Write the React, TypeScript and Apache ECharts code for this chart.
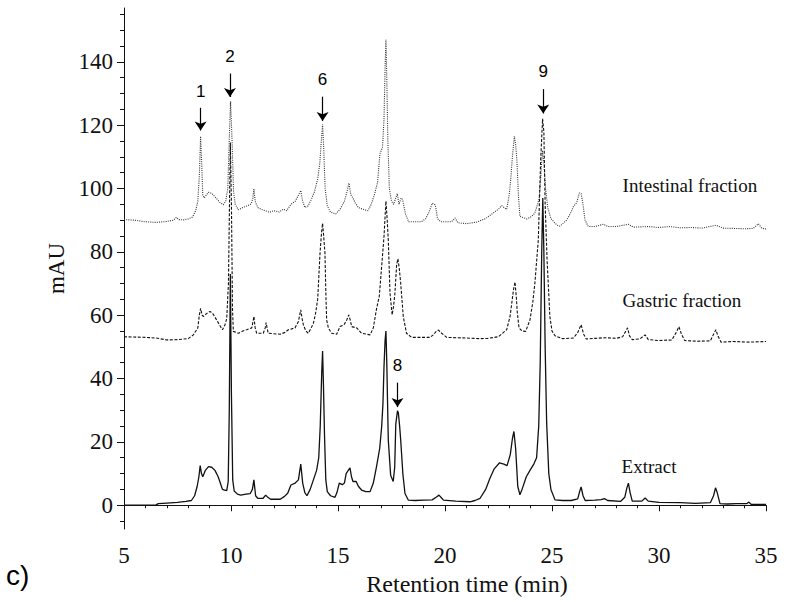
import React, { useEffect, useRef } from "react";
import * as echarts from "echarts";

// Retention time (min), absorbance (mAU)
const extractTrace: [number, number][] = [
  [5.0, 0], [6.0, 0], [6.5, 0.1], [6.6, 0.5], [7.0, 0.7], [7.5, 0.9], [7.9, 1.2], [8.15, 1.5], [8.3, 3], [8.42, 6],
  [8.5, 9], [8.56, 12.5], [8.62, 10], [8.68, 9], [8.8, 11], [8.95, 12.2], [9.1, 12], [9.25, 11], [9.4, 9], [9.5, 7],
  [9.6, 5], [9.7, 4.8], [9.8, 4.6], [9.87, 7.5], [9.92, 30], [9.97, 73], [10.02, 35], [10.08, 8], [10.15, 4.5],
  [10.3, 3.5], [10.45, 3.2], [10.7, 3.5], [10.9, 3.7], [11.0, 5], [11.07, 8], [11.15, 3], [11.25, 2.2], [11.5, 2.2],
  [11.62, 3.2], [11.72, 2.5], [11.85, 1.9], [12.3, 1.9], [12.5, 2.8], [12.65, 3.8], [12.8, 6.4], [13.0, 7], [13.15, 8],
  [13.26, 13], [13.35, 7], [13.45, 4], [13.55, 3], [13.7, 5], [13.85, 8], [14.0, 11], [14.1, 15], [14.17, 25],
  [14.24, 42], [14.28, 48.7], [14.32, 38], [14.37, 22], [14.43, 8], [14.5, 4.3], [14.65, 3], [14.86, 2.5], [14.95, 4],
  [15.06, 7], [15.2, 6.5], [15.3, 7], [15.38, 10], [15.48, 11], [15.56, 11.8], [15.63, 9], [15.7, 7.5], [15.85, 7.5],
  [15.95, 6], [16.1, 4.8], [16.3, 4.3], [16.5, 4.3], [16.65, 7], [16.8, 12.2], [16.95, 18], [17.04, 24.8], [17.1, 32],
  [17.15, 43.8], [17.2, 52], [17.24, 55], [17.28, 45], [17.35, 20.6], [17.46, 9.5], [17.58, 7.5], [17.65, 12],
  [17.7, 25.6], [17.78, 29.8], [17.82, 29.2], [17.88, 25], [17.93, 20.6], [18.03, 10], [18.13, 3.7], [18.29, 1.6],
  [18.6, 1.5], [18.99, 1.6], [19.4, 1.7], [19.6, 2.6], [19.72, 3.2], [19.85, 2.2], [19.93, 1.6], [20.5, 1.3],
  [21.17, 1.1], [21.4, 1.5], [21.64, 2.2], [21.9, 5], [22.1, 8.5], [22.3, 11.5], [22.55, 13.4], [22.75, 13],
  [22.9, 12.5], [23.05, 16], [23.15, 21], [23.22, 23.3], [23.3, 18], [23.4, 6], [23.5, 3.3], [23.6, 5], [23.8, 9],
  [23.97, 11], [24.15, 13], [24.28, 15], [24.38, 25], [24.45, 45], [24.52, 80], [24.57, 97], [24.62, 80], [24.68, 50],
  [24.75, 26], [24.85, 10], [24.95, 5], [25.14, 1.7], [25.5, 1.5], [25.9, 1.5], [26.2, 2], [26.3, 4.5], [26.36, 5.8],
  [26.45, 3], [26.55, 1.5], [27.0, 1.6], [27.3, 1.8], [27.45, 2.1], [27.6, 1.5], [28.2, 1.2], [28.4, 2.5], [28.5, 5.5],
  [28.57, 7], [28.65, 4], [28.75, 1.3], [29.2, 1.3], [29.35, 2.3], [29.5, 1.3], [30.0, 0.9], [31.0, 0.8], [31.7, 0.6],
  [32.4, 0.8], [32.55, 3], [32.64, 5.5], [32.72, 4], [32.85, 0.5], [33.2, 0.4], [33.6, 0.5], [34.1, 0.5], [34.2, 1],
  [34.3, 0.3], [35.0, 0.3],
];

const gastricTrace: [number, number][] = [
  [5.0, 53.2], [6.0, 53], [6.5, 52.8], [7.0, 52.2], [7.5, 52.3], [8.0, 52.6], [8.24, 53.8], [8.45, 56], [8.52, 60],
  [8.58, 62.2], [8.65, 60], [8.72, 59.6], [8.85, 60.5], [9.02, 61.2], [9.15, 60.5], [9.33, 58.5], [9.5, 56.5],
  [9.6, 55.4], [9.72, 57], [9.8, 58.9], [9.88, 70], [9.93, 95], [9.97, 114.5], [10.02, 95], [10.07, 62], [10.11, 54.9],
  [10.34, 54.3], [10.55, 55], [10.73, 55.4], [10.97, 56], [11.03, 58], [11.07, 59.6], [11.13, 56], [11.2, 54.3],
  [11.51, 54.3], [11.6, 56], [11.64, 57.7], [11.7, 55.5], [11.74, 54.3], [12.29, 54], [12.5, 54.5], [12.68, 55.4],
  [12.99, 56], [13.15, 58], [13.26, 61.7], [13.32, 59], [13.38, 57], [13.5, 55], [13.61, 54.3], [13.75, 56],
  [13.85, 57.5], [13.95, 60.5], [14.05, 65], [14.16, 79.6], [14.23, 86], [14.28, 89], [14.33, 85], [14.39, 79.6],
  [14.44, 65], [14.47, 58.5], [14.55, 56], [14.7, 54.3], [14.94, 54], [15.09, 56.4], [15.28, 57], [15.41, 58.5],
  [15.5, 60.1], [15.57, 58.5], [15.64, 56.4], [15.87, 56], [16.1, 54.3], [16.5, 53.8], [16.65, 56], [16.8, 62],
  [16.93, 66], [17.04, 75.4], [17.15, 84.9], [17.24, 96], [17.3, 90], [17.35, 83.8], [17.43, 67], [17.53, 60.1],
  [17.6, 63], [17.66, 67], [17.74, 76], [17.8, 77.8], [17.86, 75], [17.93, 70.1], [18.05, 59.6], [18.2, 54.3],
  [18.44, 53], [19.3, 53], [19.45, 53.8], [19.6, 55], [19.7, 55.3], [19.84, 54.3], [20.08, 53], [21.0, 52.8],
  [21.64, 52.6], [22.0, 52.7], [22.5, 53.2], [22.88, 55.4], [23.04, 59.6], [23.2, 68], [23.27, 70.5], [23.33, 66],
  [23.38, 60.7], [23.46, 56], [23.6, 55], [23.77, 54.9], [23.97, 58.5], [24.1, 64], [24.2, 70.1], [24.36, 83.8],
  [24.47, 109], [24.56, 122], [24.62, 118], [24.68, 95], [24.77, 77.5], [24.9, 59.6], [25.0, 55], [25.14, 53.5],
  [25.5, 52.6], [26.0, 52.8], [26.2, 54.5], [26.36, 57], [26.48, 54], [26.6, 52.5], [27.0, 52.7], [27.5, 52.9],
  [28.0, 52.7], [28.3, 53.2], [28.45, 55], [28.53, 56], [28.62, 53.5], [28.75, 52.3], [29.1, 52.5], [29.35, 53.8],
  [29.5, 52.3], [30.0, 52], [30.6, 52.2], [30.8, 54.5], [30.93, 56.4], [31.05, 54], [31.2, 52], [31.8, 51.8],
  [32.4, 51.9], [32.55, 54], [32.66, 55.4], [32.75, 53.5], [32.9, 51.5], [33.5, 51.7], [34.2, 51.5], [35.0, 51.7],
];

const intestinalTrace: [number, number][] = [
  [5.0, 90.2], [5.5, 90], [6.0, 89.5], [6.5, 89.3], [7.0, 89.6], [7.3, 90], [7.45, 90.9], [7.55, 90.2], [7.8, 90.1],
  [8.0, 90.4], [8.2, 91], [8.35, 93], [8.45, 96], [8.52, 104], [8.58, 116.5], [8.63, 108], [8.68, 98], [8.75, 97],
  [8.94, 98.8], [9.1, 98.5], [9.3, 97], [9.5, 95.5], [9.64, 94.9], [9.75, 96], [9.85, 100], [9.93, 118], [9.98, 127.5],
  [10.05, 115], [10.12, 99], [10.2, 95], [10.34, 93.3], [10.55, 94], [10.75, 94.5], [10.95, 95.2], [11.02, 97],
  [11.07, 99.8], [11.13, 96], [11.25, 94], [11.4, 93.5], [11.6, 93], [11.8, 92.5], [12.0, 93], [12.25, 92.6],
  [12.45, 93.5], [12.6, 93], [12.8, 95], [13.0, 96], [13.12, 97.5], [13.26, 99.4], [13.33, 96.5], [13.45, 94],
  [13.6, 94.5], [13.75, 96.5], [13.9, 99], [14.05, 103], [14.15, 108], [14.22, 115], [14.28, 120.2], [14.33, 113],
  [14.4, 100], [14.5, 94.5], [14.65, 92.5], [14.9, 92], [15.1, 93.5], [15.3, 96], [15.42, 99], [15.51, 101.7],
  [15.6, 98], [15.7, 97], [15.8, 95.5], [15.95, 94], [16.15, 93.5], [16.4, 93], [16.55, 95], [16.7, 98], [16.85, 102],
  [16.96, 111], [17.08, 113], [17.15, 122], [17.2, 138], [17.24, 147], [17.28, 135], [17.33, 115], [17.4, 100],
  [17.5, 96], [17.6, 95], [17.7, 97], [17.77, 98.4], [17.85, 95], [17.95, 97], [18.02, 96.5], [18.15, 92],
  [18.3, 89.5], [18.9, 89.5], [19.1, 90.5], [19.25, 92.5], [19.41, 95.4], [19.55, 94.8], [19.65, 90.5], [19.8, 89.5],
  [20.3, 89.5], [20.47, 90.7], [20.6, 89.2], [21.0, 88.9], [21.48, 89.4], [21.9, 90.5], [22.26, 92.3], [22.5, 93.5],
  [22.65, 94.6], [22.88, 93.4], [23.0, 98], [23.07, 102.8], [23.15, 110], [23.24, 116.5], [23.3, 114], [23.36, 108.9],
  [23.43, 98], [23.5, 91.2], [23.82, 90.4], [24.05, 91.2], [24.2, 92.3], [24.39, 96.5], [24.48, 104], [24.55, 112],
  [24.62, 108], [24.7, 100], [24.8, 94], [24.95, 90.5], [25.22, 88.5], [25.37, 88.1], [25.69, 90.1], [25.85, 92],
  [26.0, 94.3], [26.15, 95.5], [26.28, 98.6], [26.36, 98.4], [26.45, 95], [26.54, 90.1], [26.7, 88], [27.0, 88],
  [27.4, 88.7], [27.6, 88], [28.0, 88], [28.57, 88.7], [28.8, 87.8], [29.5, 88], [30.0, 87.7], [30.5, 88],
  [31.0, 87.6], [31.5, 87.7], [32.0, 87.5], [32.66, 88.4], [33.0, 87.5], [33.5, 87.4], [34.0, 87.3], [34.4, 87.4],
  [34.64, 88.9], [34.8, 87.5], [35.0, 87.2],
];

// Trace labels: [name, x (min), y (mAU)]
const traceNames = ["Extract", "Gastric fraction", "Intestinal fraction"];
const traceLabelX = [28.25, 28.3, 28.3];
const traceLabelY = [12.2, 64.8, 101];

// Peak annotations
const peakIds = ["1", "2", "6", "8", "9"];
const peakX = [8.58, 9.95, 14.28, 17.78, 24.59];
const arrowTop = [125.5, 136.3, 129, 38.7, 131.4];
const arrowTip = [118.3, 128.9, 121.3, 31.0, 123.7];
const peakLabelY = [130.6, 141.6, 134.3, 44, 136.8];

// Axes
const xMin = 5, xMax = 35, xStep = 5;
const yMin = -7.5, yMax = 157;
const yMajorTicks = [0, 20, 40, 60, 80, 100, 120, 140];
const yMinorTicks = [-5, 5, 10, 15, 25, 30, 35, 45, 50, 55, 65, 70, 75, 85, 90, 95, 105, 110, 115, 125, 130, 135, 145, 150, 155];

const SERIF = "Liberation Serif";
const SANS = "Liberation Sans";

export default function App() {
  const ref = useRef<HTMLDivElement>(null);
  useEffect(() => {
    if (!ref.current) return;
    const chart = echarts.init(ref.current, null, { renderer: "svg" });

    const nameLabel = (i: number) => ({
      symbol: "circle",
      symbolSize: 0,
      itemStyle: { color: "rgba(0,0,0,0)" },
      label: {
        show: true,
        position: "right",
        distance: 0,
        formatter: traceNames[i],
        color: "#111",
        fontFamily: SERIF,
        fontSize: 19,
      },
      data: [{ coord: [traceLabelX[i], traceLabelY[i]] }],
    });

    const option: any = {
      animation: false,
      backgroundColor: "#fff",
      textStyle: { fontFamily: SERIF },
      grid: { left: 124, right: 21, top: 8, bottom: 73 },
      xAxis: {
        type: "value",
        min: xMin,
        max: xMax,
        interval: xStep,
        name: "Retention time (min)",
        nameLocation: "middle",
        nameGap: 41,
        nameTextStyle: { fontFamily: SERIF, fontSize: 24, color: "#111", padding: [0, 0, 0, 44] },
        axisLine: { show: true, lineStyle: { color: "#111", width: 1 } },
        axisTick: { show: true, length: 6, lineStyle: { color: "#111" } },
        minorTick: { show: true, splitNumber: 5, length: 3, lineStyle: { color: "#111" } },
        axisLabel: { fontFamily: SERIF, fontSize: 23, color: "#111", margin: 15 },
        splitLine: { show: false },
      },
      yAxis: [
        {
          type: "value",
          min: yMin,
          max: yMax,
          name: "mAU",
          nameLocation: "middle",
          nameGap: 48,
          nameTextStyle: { fontFamily: SERIF, fontSize: 23, color: "#111" },
          axisLine: { show: true, lineStyle: { color: "#111", width: 1 } },
          axisTick: { show: true, length: 7, customValues: yMajorTicks, lineStyle: { color: "#111" } },
          axisLabel: { customValues: yMajorTicks, fontFamily: SERIF, fontSize: 23, color: "#111", margin: 11 },
          splitLine: { show: false },
        },
        {
          type: "value",
          min: yMin,
          max: yMax,
          position: "left",
          axisLine: { show: false },
          axisTick: { show: true, length: 4, customValues: yMinorTicks, lineStyle: { color: "#111" } },
          axisLabel: { show: false, customValues: yMinorTicks },
          splitLine: { show: false },
        },
      ],
      series: [
        {
          name: traceNames[2],
          type: "line",
          data: intestinalTrace,
          showSymbol: false,
          symbol: "none",
          lineStyle: { color: "#333", width: 1.1, type: [1, 1.2] },
          silent: true,
          z: 2,
          markPoint: nameLabel(2),
        },
        {
          name: traceNames[1],
          type: "line",
          data: gastricTrace,
          showSymbol: false,
          symbol: "none",
          lineStyle: { color: "#111", width: 1.1, type: [3, 1.6] },
          silent: true,
          z: 3,
          markPoint: nameLabel(1),
        },
        {
          name: traceNames[0],
          type: "line",
          data: extractTrace,
          showSymbol: false,
          symbol: "none",
          lineStyle: { color: "#111", width: 1.3, type: "solid" },
          silent: true,
          z: 4,
          markPoint: nameLabel(0),
        },
        {
          name: "peaks",
          type: "line",
          data: [],
          silent: true,
          markLine: {
            silent: true,
            symbol: ["none", "arrow"],
            symbolSize: 9,
            lineStyle: { color: "#000", width: 1.2, type: "solid" },
            label: { show: false },
            data: peakIds.map((_, i) => [
              { coord: [peakX[i], arrowTop[i]] },
              { coord: [peakX[i], arrowTip[i]] },
            ]),
          },
          markPoint: {
            symbol: "circle",
            symbolSize: 0,
            itemStyle: { color: "rgba(0,0,0,0)" },
            label: {
              show: true,
              position: "inside",
              color: "#000",
              fontFamily: SANS,
              fontSize: 17,
              formatter: (p: any) => p.name,
            },
            data: peakIds.map((id, i) => ({ name: id, coord: [peakX[i], peakLabelY[i]] })),
          },
        },
      ],
      graphic: [
        {
          type: "text",
          left: 6,
          top: 561,
          style: { text: "c)", font: `28px ${SANS}`, fill: "#000" },
        },
      ],
    };

    chart.setOption(option);
    return () => chart.dispose();
  }, []);

  return (
    <div
      ref={ref}
      style={{ position: "fixed", left: 0, top: 0, width: 787, height: 602, background: "#fff" }}
    />
  );
}
